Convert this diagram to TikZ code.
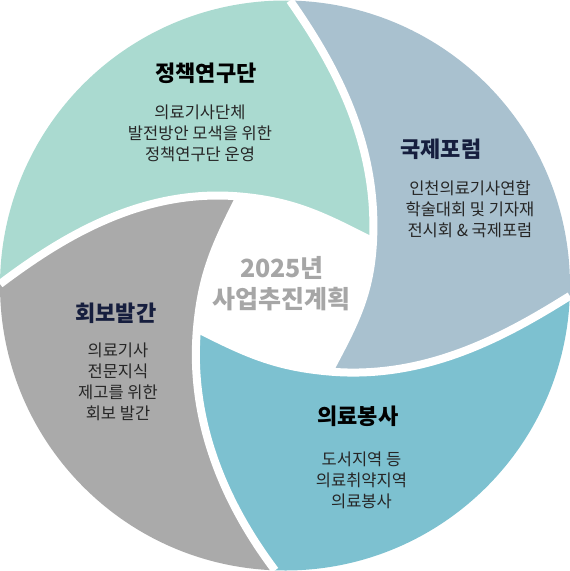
\documentclass[tikz,border=0pt]{standalone}
\usepackage{fontspec}
\setmainfont{Noto Sans CJK KR}
\definecolor{policy}{RGB}{170,218,208}
\definecolor{forum}{RGB}{169,193,207}
\definecolor{service}{RGB}{125,193,208}
\definecolor{bulletin}{RGB}{170,170,170}
\definecolor{navy}{RGB}{22,30,62}
\definecolor{ink}{RGB}{38,38,38}
\definecolor{hub}{RGB}{166,166,166}

\begin{document}
\begin{tikzpicture}[x=1pt,y=1pt,
  seam/.style={white,line width=8pt},
  head/.style={font=\fontsize{22}{26}\selectfont\bfseries,text=black},
  body/.style={font=\fontsize{16.5}{21}\selectfont,text=ink,align=center,inner sep=0pt}]
\useasboundingbox (-285,-285.5) rectangle (285,285.5);
% rim points and inner tips
\coordinate (gl) at (179.7:285);
\coordinate (gt) at (89:285);
\coordinate (gr) at (-2.1:285);
\coordinate (gb) at (-92:285);
\coordinate (tt) at (88,44);
\coordinate (tg) at (-45,89);
\coordinate (tc) at (-88,-43);
\coordinate (tb) at (44,-86);
% policy segment
\fill[policy] (gl) arc[start angle=179.7,end angle=89,radius=285] to[out=-55,in=87,out looseness=0.75] (tt)
  to[out=153,in=-5] (tg) to[out=175,in=37,in looseness=0.75] (gl) -- cycle;
% forum segment
\fill[forum] (gt) arc[start angle=89,end angle=-2.1,radius=285] to[out=-148,in=-5,out looseness=0.75] (tb)
  to[out=62,in=-93] (tt) to[out=87,in=-55,in looseness=0.75] (gt) -- cycle;
% service segment
\fill[service] (gr) arc[start angle=-2.1,end angle=-92,radius=285] to[out=127,in=-95,out looseness=0.75] (tc)
  to[out=-27,in=175] (tb) to[out=-5,in=-148,in looseness=0.75] (gr) -- cycle;
% bulletin segment
\fill[bulletin] (gb) arc[start angle=-92,end angle=-180.3,radius=285] to[out=37,in=175,out looseness=0.75] (tg)
  to[out=-117,in=85] (tc) to[out=-95,in=127,in looseness=0.75] (gb) -- cycle;
% white seams
\draw[seam] (gl) to[out=37,in=175,out looseness=0.75] (tg) to[out=-5,in=153] (tt);
\draw[seam] (gt) to[out=-55,in=87,out looseness=0.75] (tt) to[out=-93,in=62] (tb);
\draw[seam] (gr) to[out=-148,in=-5,out looseness=0.75] (tb) to[out=175,in=-27] (tc);
\draw[seam] (gb) to[out=127,in=-95,out looseness=0.75] (tc) to[out=85,in=-117] (tg);
% labels
\node[head] (policyHead) at (-79,212.5) {정책연구단};
\node[body] (policyBody) at (-85,152.5) {의료기사단체\\발전방안 모색을 위한\\정책연구단 운영};
\node[head,text=navy] (forumHead) at (156,136.5) {국제포럼};
\node[body] (forumBody) at (185,76) {인천의료기사연합\\학술대회 및 기자재\\전시회 \& 국제포럼};
\node[head] (serviceHead) at (73,-130.5) {의료봉사};
\node[body] (serviceBody) at (76.5,-194.5) {도서지역 등\\의료취약지역\\의료봉사};
\node[head,text=navy] (bulletinHead) at (-169,-27.5) {회보발간};
\node[body] (bulletinBody) at (-167,-96) {의료기사\\전문지식\\제고를 위한\\회보 발간};
% centre
\node[font=\fontsize{25}{31}\selectfont\bfseries,text=hub,align=center,inner sep=0pt] (plan) at (-3,2) {2025년\\사업추진계획};
\end{tikzpicture}
\end{document}
